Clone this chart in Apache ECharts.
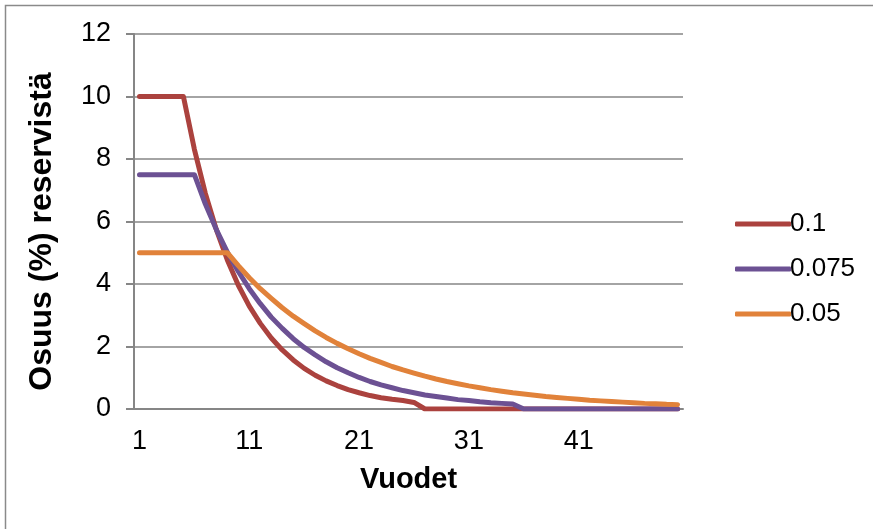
<!DOCTYPE html>
<html>
<head>
<meta charset="utf-8">
<script src="https://cdn.jsdelivr.net/npm/echarts@6/dist/echarts.min.js"></script>
<style>
html,body{margin:0;padding:0;background:#fff;}
#c{width:873px;height:529px;}
</style>
</head>
<body>
<div id="c"></div>
<script>
var years = [1,2,3,4,5,6,7,8,9,10,11,12,13,14,15,16,17,18,19,20,21,22,23,24,25,26,27,28,29,30,31,32,33,34,35,36,37,38,39,40,41,42,43,44,45,46,47,48,49,50];
var seriesNames = ['0.1', '0.075', '0.05'];
var red = [10,10,10,10,10,8.31,6.9,5.74,4.77,3.96,3.29,2.74,2.27,1.89,1.57,1.3,1.08,0.9,0.75,0.62,0.52,0.43,0.36,0.31,0.27,0.21,0,0,0,0,0,0,0,0,0,0,0,0,0,0,0,0,0,0,0,0,0,0,0,0];
var purple = [7.5,7.5,7.5,7.5,7.5,7.5,6.56,5.74,5.02,4.4,3.85,3.37,2.94,2.58,2.25,1.97,1.73,1.51,1.32,1.16,1.01,0.88,0.77,0.68,0.59,0.52,0.45,0.4,0.35,0.3,0.27,0.23,0.2,0.18,0.16,0,0,0,0,0,0,0,0,0,0,0,0,0,0,0];
var orange = [5,5,5,5,5,5,5,5,5,4.59,4.2,3.85,3.54,3.24,2.97,2.73,2.5,2.29,2.1,1.93,1.77,1.62,1.49,1.36,1.25,1.15,1.05,0.96,0.88,0.81,0.74,0.68,0.62,0.57,0.52,0.48,0.44,0.4,0.37,0.34,0.31,0.28,0.26,0.24,0.22,0.2,0.18,0.17,0.15,0.14];
var colors = ['#AB423E', '#6C5193', '#E1823A'];

var chart = echarts.init(document.getElementById('c'), null, {renderer: 'canvas'});
var font = 'Liberation Sans, Arial, sans-serif';
function mk(name, data, color) {
  return {
    name: name, type: 'line', data: data, symbol: 'none', showSymbol: false,
    lineStyle: {color: color, width: 5, cap: 'round', join: 'round'},
    itemStyle: {color: color},
    animation: false
  };
}
chart.setOption({
  animation: false,
  graphic: [{
    type: 'rect', shape: {x: 5.5, y: 5.5, width: 900, height: 600},
    style: {fill: 'none', stroke: '#8a8a8a', lineWidth: 1.5}, z: -1
  }],
  grid: {left: 134, right: 190, top: 34, bottom: 120, containLabel: false},
  legend: {
    orient: 'vertical', left: 730, top: 206,
    icon: 'roundRect',
    itemWidth: 56, itemHeight: 5, itemGap: 19,
    textStyle: {fontFamily: font, fontSize: 26, color: '#000', padding: [0,0,0,-6]},
    data: seriesNames
  },
  xAxis: {
    type: 'category', data: years, boundaryGap: true,
    name: 'Vuodet', nameLocation: 'middle', nameGap: 56,
    nameTextStyle: {fontFamily: font, fontSize: 29, fontWeight: 'bold', color: '#000'},
    axisLine: {show: true, lineStyle: {color: '#868686', width: 2}},
    axisTick: {show: false},
    axisLabel: {interval: 9, margin: 19, fontFamily: font, fontSize: 27, color: '#000'},
    splitLine: {show: false}
  },
  yAxis: {
    type: 'value', min: 0, max: 12, interval: 2,
    name: 'Osuus (%) reservistä', nameLocation: 'middle', nameGap: 76,
    nameTextStyle: {fontFamily: font, fontSize: 32, fontWeight: 'bold', color: '#000', padding: [0, 20, 0, 0]},
    axisLine: {show: true, lineStyle: {color: '#868686', width: 2}},
    axisTick: {show: true, length: 8, inside: false, lineStyle: {color: '#868686', width: 2}},
    axisLabel: {margin: 23, fontFamily: font, fontSize: 27, color: '#000'},
    splitLine: {show: true, lineStyle: {color: '#868686', width: 1.5}}
  },
  series: [mk(seriesNames[0], red, colors[0]), mk(seriesNames[1], purple, colors[1]), mk(seriesNames[2], orange, colors[2])]
});
</script>
</body>
</html>
